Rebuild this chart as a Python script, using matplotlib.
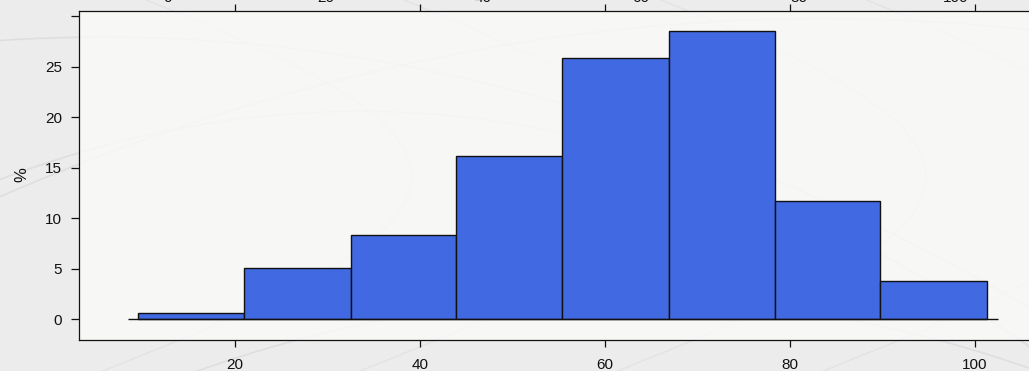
import numpy as np
import matplotlib.pyplot as plt

plt.rcParams['font.family'] = ['Liberation Sans', 'DejaVu Sans']

# histogram bins (percent of observations per bin)
bin_edges = [9.5, 21.0, 32.5, 43.9, 55.4, 66.9, 78.4, 89.8, 101.3]
percent = [0.6, 5.1, 8.35, 16.2, 25.9, 28.5, 11.7, 3.8]

x_ticks = [20, 40, 60, 80, 100]
y_ticks = [0, 5, 10, 15, 20, 25, 30]
y_labels = ['0', '5', '10', '15', '20', '25', '']
top_labels = ['0', '20', '40', '60', '80', '100']

W, H = 1029, 371
fig = plt.figure(figsize=(W / 100, H / 100), dpi=100)
fig.patch.set_facecolor('#ececed')

# faint paper-like texture behind everything
bg = fig.add_axes([0, 0, 1, 1], zorder=-1)
bg.set_xlim(0, 1)
bg.set_ylim(0, 1)
bg.axis('off')
t = np.linspace(0, 1, 200)
for a, b, c in [(0.1, 0.9, 0.3), (0.35, 0.7, 0.5), (0.6, 0.2, 0.4), (0.8, 0.95, 0.25)]:
    bg.plot(t, b - c * (t - a) ** 2 * 3, color='#d6d6d8', lw=1.2, alpha=0.6)
    bg.plot(a + 0.3 * np.sin(3 * t), t, color='#dadadc', lw=1.0, alpha=0.5)

ax = fig.add_axes([79 / W, (H - 340) / H, (1040 - 79) / W, (340 - 11.3) / H])
ax.set_facecolor((0.975, 0.975, 0.972, 0.85))

widths = np.diff(bin_edges)
ax.bar(bin_edges[:-1], percent, width=widths, align='edge', color='#4169E1',
       edgecolor='#111111', linewidth=1.0, zorder=3)

# base line under the bars
pad = 0.1 * widths[0]
ax.hlines(0, bin_edges[0] - pad * 1.0, bin_edges[-1] + pad * 1.1, color='#111111', lw=1.0, zorder=4)

ax.set_xlim(3.1, 107.06)
ax.set_ylim(-2.05, 30.5)

ax.set_xticks(x_ticks)
ax.set_yticks(y_ticks)
ax.set_yticklabels(y_labels)
ax.tick_params(axis='x', direction='out', length=5.2, width=0.9, pad=8,
               labelsize=11, top=True, labeltop=False, colors='#111111')
ax.tick_params(axis='y', direction='out', length=5.8, width=0.9, pad=6.5,
               labelsize=11, colors='#111111')
for s in ax.spines.values():
    s.set_linewidth(0.9)
    s.set_color('#111111')

fig.text(22 / W, 1 - 175 / H, '%', rotation=90, ha='center', va='center',
         fontsize=12, color='#111111')

# labels of the panel above, cut off at the top edge
for i, lab in enumerate(top_labels):
    fig.text((168 + 157.6 * i) / W, 1 - 2.5 / H, lab, ha='center', va='baseline',
             fontsize=11, color='#111111')

fig.savefig('out.png', dpi=100)
